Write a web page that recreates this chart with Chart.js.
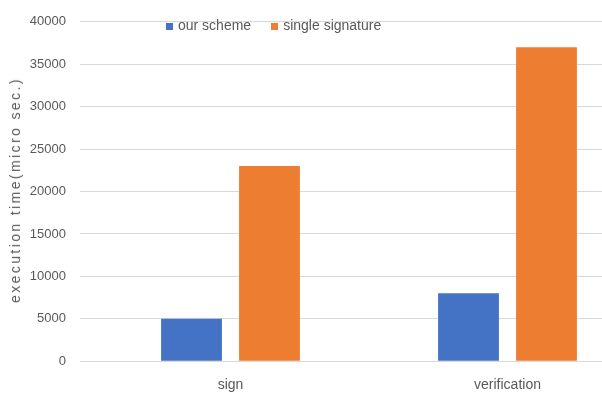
<!DOCTYPE html>
<html lang="en">
<head>
    <meta charset="UTF-8">
    <title>Execution time</title>
    <script src="https://cdn.jsdelivr.net/npm/chart.js@4.4.0/dist/chart.umd.min.js"></script>
    <style>
        body {
            margin: 0;
            width: 602px;
            height: 394px;
            overflow: hidden;
            font-family: "Liberation Sans", Arial, sans-serif;
        }
        .wrap {
            position: relative;
            width: 646px;
            height: 394px;
        }
        .legend {
            position: absolute;
            top: 17px;
            left: 166px;
            font-size: 14px;
            color: #595959;
            white-space: nowrap;
        }
        .legend span.box {
            display: inline-block;
            width: 7px;
            height: 7px;
            margin-right: 5px;
        }
        .legend span.item {
            margin-right: 20px;
        }
        .ytitle {
            position: absolute;
            left: 15px;
            top: 190px;
            transform: translate(-50%, -50%) rotate(-90deg);
            font-size: 14px;
            letter-spacing: 2.4px;
            color: #595959;
            white-space: nowrap;
        }
    </style>
</head>
<body>
    <div class="wrap">
        <canvas id="myChart" width="646" height="394"></canvas>
        <div class="legend" id="legend"></div>
        <div class="ytitle">execution time(micro sec.)</div>
    </div>

    <script>
        const categories = ['sign', 'verification'];
        const ourScheme = [5000, 8000];
        const singleSignature = [23000, 37000];
        const yTicks = [0, 5000, 10000, 15000, 20000, 25000, 30000, 35000, 40000];

        const seriesNames = ['our scheme', 'single signature'];
        const colors = ['#4472C4', '#ED7D31'];

        // simple html legend laid over the plot, like the original
        const legend = document.getElementById('legend');
        seriesNames.forEach(function(name, i) {
            const item = document.createElement('span');
            item.className = 'item';
            item.innerHTML = '<span class="box" style="background:' + colors[i] + '"></span>' + name;
            legend.appendChild(item);
        });

        const ctx = document.getElementById('myChart').getContext('2d');
        const myChart = new Chart(ctx, {
            type: 'bar',
            data: {
                labels: categories,
                datasets: [
                    { label: seriesNames[0], data: ourScheme, backgroundColor: colors[0] },
                    { label: seriesNames[1], data: singleSignature, backgroundColor: colors[1] }
                ]
            },
            options: {
                responsive: false,
                animation: false,
                layout: {
                    padding: { top: 12, right: 0, bottom: -16, left: 0 }
                },
                datasets: {
                    bar: {
                        categoryPercentage: 0.563,
                        barPercentage: 0.78
                    }
                },
                plugins: {
                    legend: { display: false },
                    tooltip: { enabled: false }
                },
                scales: {
                    x: {
                        grid: { display: false, drawTicks: false },
                        border: { display: false },
                        ticks: {
                            color: '#595959',
                            padding: 16,
                            font: { family: 'Liberation Sans', size: 14 }
                        }
                    },
                    y: {
                        min: 0,
                        max: 40000,
                        afterBuildTicks: function(axis) {
                            axis.ticks = yTicks.map(v => ({ value: v }));
                        },
                        afterFit: function(axis) {
                            axis.width = 92;
                        },
                        grid: {
                            color: '#D9D9D9',
                            lineWidth: 1,
                            drawTicks: true,
                            tickLength: 12
                        },
                        border: { display: false },
                        ticks: {
                            color: '#595959',
                            padding: 14,
                            font: { family: 'Liberation Sans', size: 13 },
                            callback: v => String(v)
                        }
                    }
                }
            }
        });
    </script>
</body>
</html>
